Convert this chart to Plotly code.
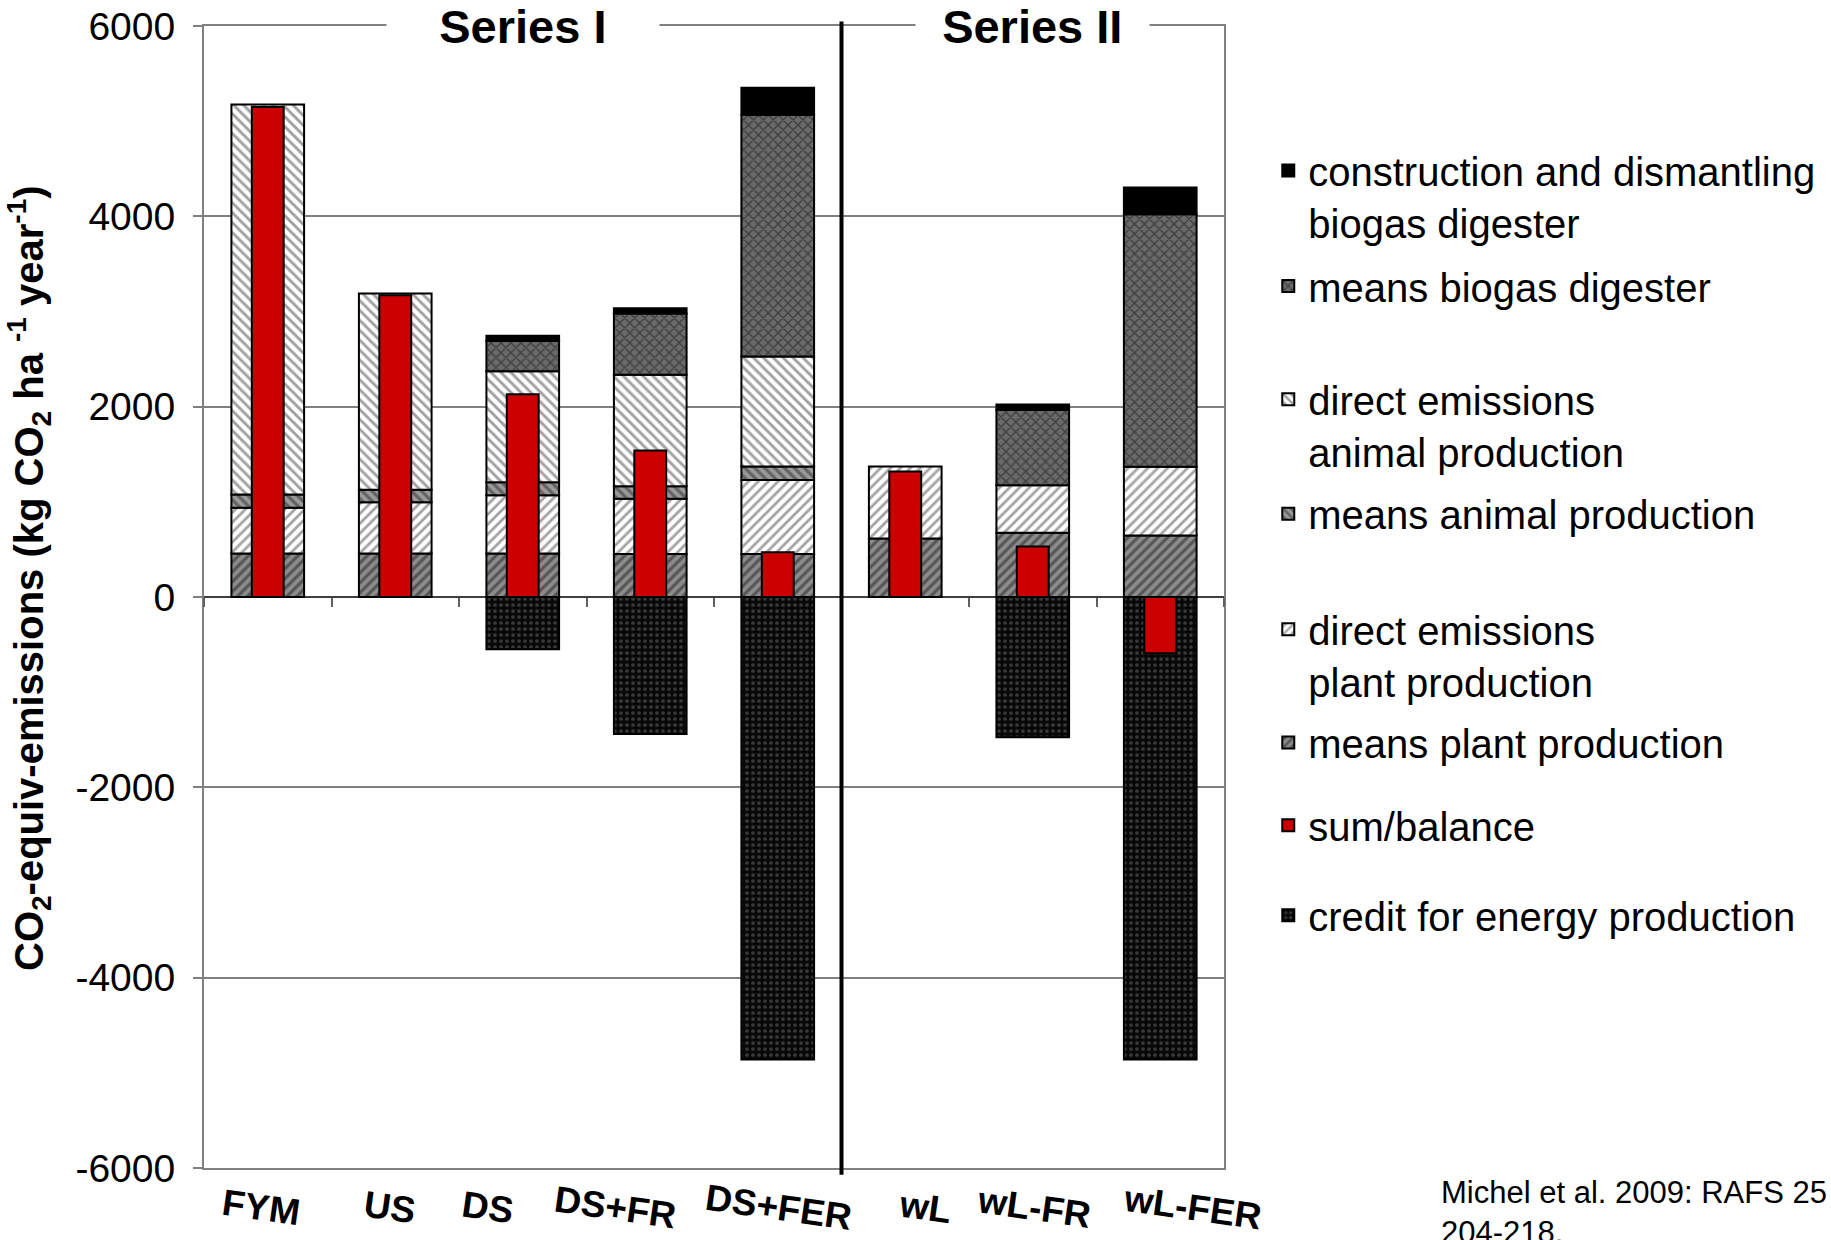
import plotly.graph_objects as go

# ---------------- data ----------------
categories = ["FYM", "US", "DS", "DS+FR", "DS+FER", "wL", "wL-FR", "wL-FER"]
means_plant = [457, 457, 457, 452, 452, 616, 676, 647]
direct_plant = [481, 538, 611, 581, 777, 756, 497, 722]
means_animal = [138, 131, 137, 132, 143, None, None, None]
direct_animal = [4100, 2064, 1166, 1170, 1156, None, None, None]
means_biogas = [None, None, 319, 643, 2540, None, 791, 2652]
construction = [None, None, 54, 56, 282, None, 60, 281]
credit = [None, None, -550, -1440, -4860, None, -1475, -4860]
sum_balance = [5150, 3170, 2130, 1540, 470, 1320, 530, -590]

series_titles = ["Series I", "Series II"]
series_title_at = ["DS", "wL-FR"]
y_ticks = [-6000, -4000, -2000, 0, 2000, 4000, 6000]

# ---------------- styling (layout only) ----------------
FONT = "Liberation Sans, Arial, sans-serif"
LINE = dict(color="black", width=2)
label_xshift = [-7, -6, -35, -35, 1, 20, 1, 32]
legend_tops = {  # paper y of each legend block's top
    "legend": 0.9020, "legend2": 0.8008, "legend3": 0.7017, "legend4": 0.6014,
    "legend5": 0.5002, "legend6": 0.4011, "legend7": 0.3285, "legend8": 0.2498,
}

fig = go.Figure()

stack = [
    ("means plant production", means_plant,
     dict(shape="/", bgcolor="#8c8c8c", fgcolor="#1e1e1e", size=7, solidity=0.45), "legend6"),
    ("direct emissions<br>plant production", direct_plant,
     dict(shape="/", bgcolor="white", fgcolor="#4a4a4a", size=7, solidity=0.4), "legend5"),
    ("means animal production", means_animal,
     dict(shape="\\", bgcolor="#9a9a9a", fgcolor="#2a2a2a", size=7, solidity=0.45), "legend4"),
    ("direct emissions<br>animal production", direct_animal,
     dict(shape="\\", bgcolor="white", fgcolor="#444444", size=7, solidity=0.42), "legend3"),
    ("means biogas digester", means_biogas,
     dict(shape="x", bgcolor="#6a6a6a", fgcolor="#111111", size=7, solidity=0.35), "legend2"),
    ("construction and dismantling<br>biogas digester", construction, None, "legend"),
    ("credit for energy production", credit,
     dict(shape=".", bgcolor="#080808", fgcolor="#6a6a6a", size=6, solidity=0.3), "legend8"),
]

for name, vals, pat, leg in stack:
    marker = dict(color="black" if pat is None else pat["bgcolor"], line=LINE)
    if pat is not None:
        marker["pattern"] = pat
    fig.add_trace(go.Bar(
        x=categories, y=vals, name=name, marker=marker, width=0.57,
        legend=leg, xaxis="x", yaxis="y",
    ))

fig.add_trace(go.Bar(
    x=categories, y=sum_balance, name="sum/balance",
    marker=dict(color="#CC0000", line=LINE), width=0.25,
    legend="legend7", xaxis="x2", yaxis="y",
))

annotations = []
for t, c in zip(series_titles, series_title_at):
    pad = "\u00a0" * (4 if t == "Series I" else 2)
    annotations.append(dict(
        x=c, xref="x", y=1.0, yref="paper", text=pad + "<b>" + t + "</b>" + pad,
        showarrow=False, bgcolor="white", font=dict(family=FONT, size=47, color="black"),
        xanchor="center", yanchor="middle", borderpad=0,
    ))

for c, dx in zip(categories, label_xshift):
    annotations.append(dict(
        x=c, xref="x", y=-0.035, yref="paper", text="<b>" + c + "</b>",
        showarrow=False, textangle=8, font=dict(family=FONT, size=37, color="black"),
        xanchor="center", yanchor="middle", xshift=dx,
    ))

annotations.append(dict(
    x=-0.1716, xref="paper", y=0.5166, yref="paper", textangle=-90,
    text="<b>CO<sub>2</sub>-equiv-emissions (kg CO<sub>2</sub> ha <sup>-1</sup> year<sup>-1</sup>)</b>",
    showarrow=False, xanchor="center", yanchor="middle",
    font=dict(family=FONT, size=40, color="black"),
))

annotations.append(dict(
    x=1.2108, xref="paper", y=-0.004, yref="paper",
    text="Michel et al. 2009: RAFS 25<br>204-218.",
    showarrow=False, align="left", xanchor="left", yanchor="top",
    font=dict(family=FONT, size=31, color="black"),
))

legend_common = dict(
    x=1.0434, xanchor="left", yanchor="top",
    font=dict(family=FONT, size=40, color="black"),
    valign="top", bgcolor="rgba(0,0,0,0)",
    itemclick=False, itemdoubleclick=False,
)
legends = {k: dict(legend_common, y=v) for k, v in legend_tops.items()}

fig.update_layout(
    width=1831, height=1240,
    margin=dict(l=204, r=607, t=26, b=72, autoexpand=False),
    paper_bgcolor="white", plot_bgcolor="white",
    barmode="relative",
    showlegend=True,
    xaxis=dict(
        type="category", categoryorder="array", categoryarray=categories,
        range=[-0.5, 7.5], showticklabels=False, ticks="",
        showline=True, linecolor="#808080", linewidth=2, mirror=True,
        showgrid=False, zeroline=False, automargin=False,
    ),
    xaxis2=dict(
        type="category", categoryorder="array", categoryarray=categories,
        range=[-0.5, 7.5], overlaying="x", anchor="free", position=0.5,
        side="bottom", showticklabels=False, ticks="outside", tickson="boundaries",
        ticklen=9, tickwidth=1.5, tickcolor="#606060", showline=False,
        showgrid=False, zeroline=False, automargin=False,
    ),
    yaxis=dict(
        range=[-6000, 6000], tickvals=y_ticks, ticktext=[str(v) for v in y_ticks],
        tickfont=dict(family=FONT, size=39, color="black"),
        ticks="outside", ticklen=9, tickwidth=1.5, tickcolor="#808080",
        ticklabelstandoff=10, automargin=False,
        showline=True, linecolor="#808080", linewidth=2, mirror=True,
        showgrid=True, gridcolor="#808080", gridwidth=1.5,
        zeroline=True, zerolinecolor="#404040", zerolinewidth=1.5,
    ),
    annotations=annotations,
    shapes=[dict(
        type="line", xref="x", yref="paper", x0=4.5, x1=4.5, y0=-0.006, y1=1.004,
        line=dict(color="black", width=4), layer="above",
    )],
    **legends,
)

fig.write_html("out.html")
